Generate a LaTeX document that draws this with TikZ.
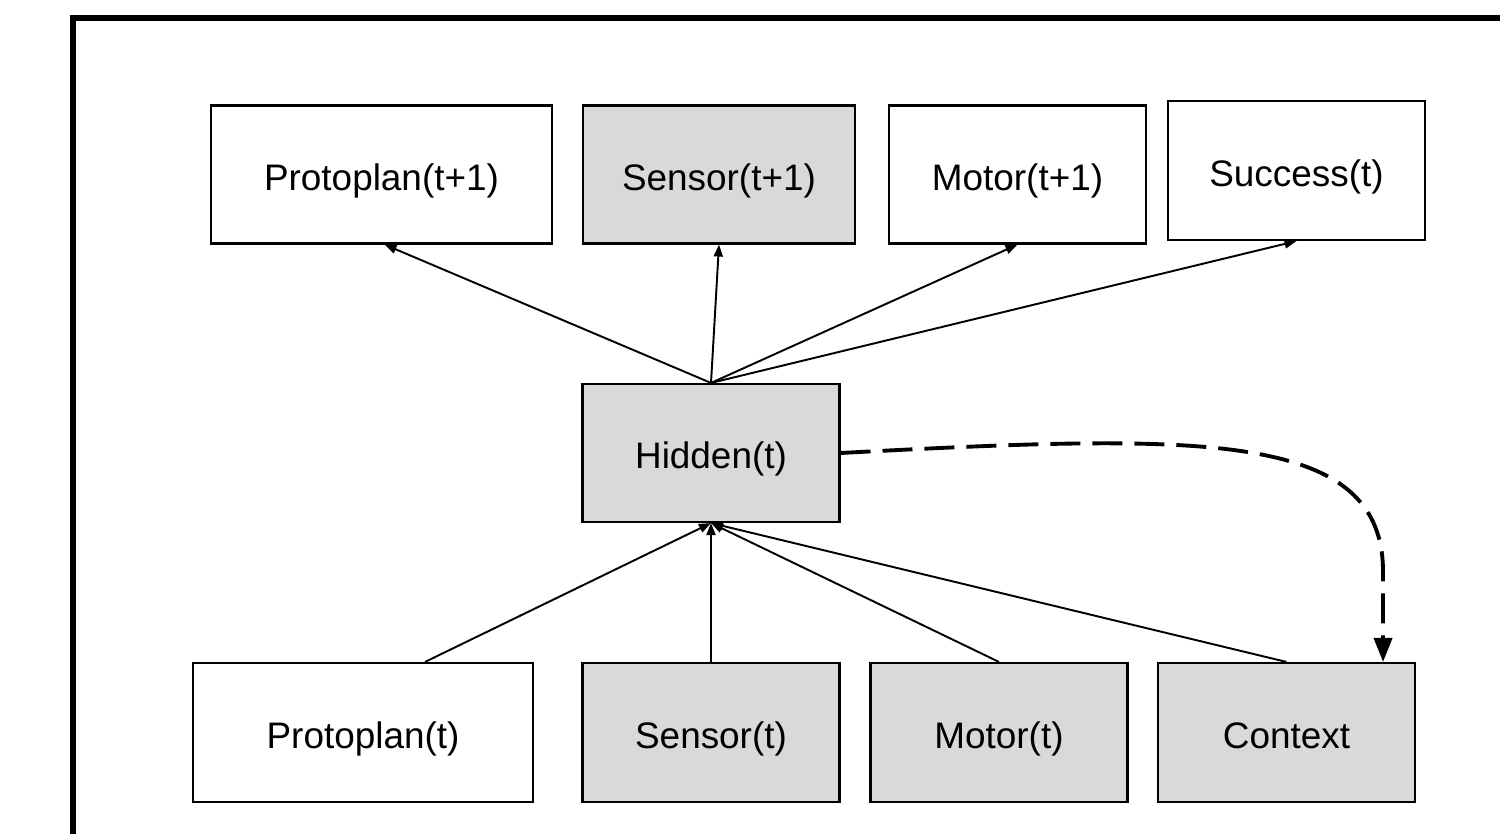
\documentclass[tikz,border=0pt]{standalone}
\usepackage{fontspec}
\setmainfont{Liberation Sans}
\usetikzlibrary{arrows.meta}
\definecolor{boxgrey}{HTML}{D9D9D9}

\begin{document}
\begin{tikzpicture}[
    unit/.style={draw, line width=0.6pt, minimum width=2.57cm,
        minimum height=1.38cm, inner sep=0pt, text height=0.40cm,
        text depth=0.08cm, font=\fontsize{10.5}{12.6}\selectfont},
    shaded/.style={fill=boxgrey},
    link/.style={line width=0.55pt, -{Triangle[length=1.2mm, width=0.9mm]}},
    recur/.style={line width=1.1pt, dash pattern=on 3mm off 1.2mm,
        -{Triangle[length=2.4mm, width=1.8mm]}}]
    \useasboundingbox (0,0) rectangle (15,8.34);
    \clip (0,0) rectangle (15,8.34);
    \draw[line width=1.6pt] (0.733,-0.5) -- (0.733,8.16) -- (15.5,8.16);

    \path (3.815,6.595) node[unit, minimum width=3.41cm](pplannext){Protoplan(t+1)};
    \path (7.19,6.595) node[unit, shaded, minimum width=2.72cm](sensornext){Sensor(t+1)};
    \path (10.175,6.595) node[unit](motornext){Motor(t+1)};
    \path (12.965,6.635) node[unit, minimum height=1.39cm](success){Success(t)};

    \path (7.11,3.81) node[unit, shaded](hidden){Hidden(t)};

    \path (3.63,1.015) node[unit, minimum width=3.40cm,
        minimum height=1.39cm](pplan){Protoplan(t)};
    \path (7.11,1.015) node[unit, shaded, minimum height=1.39cm](sensor){Sensor(t)};
    \path (9.99,1.015) node[unit, shaded, minimum height=1.39cm](motor){Motor(t)};
    \path (12.865,1.015) node[unit, shaded, minimum height=1.39cm](context){Context};

    \draw[link] (hidden.north) -- ([xshift=0.03cm]pplannext.south);
    \draw[link] (hidden.north) -- (sensornext.south);
    \draw[link] (hidden.north) -- (motornext.south);
    \draw[link] (hidden.north) -- (success.south);

    \draw[link] ([xshift=0.62cm]pplan.north) -- (hidden.south);
    \draw[link] (sensor.north) -- (hidden.south);
    \draw[link] (motor.north) -- (hidden.south);
    \draw[link] (context.north) -- (hidden.south);

    \draw[recur] (hidden.east) .. controls (12.0,4.0) and (13.85,4.05)
        .. (13.83,2.6) -- ([xshift=-0.33cm]context.north east);
\end{tikzpicture}
\end{document}
